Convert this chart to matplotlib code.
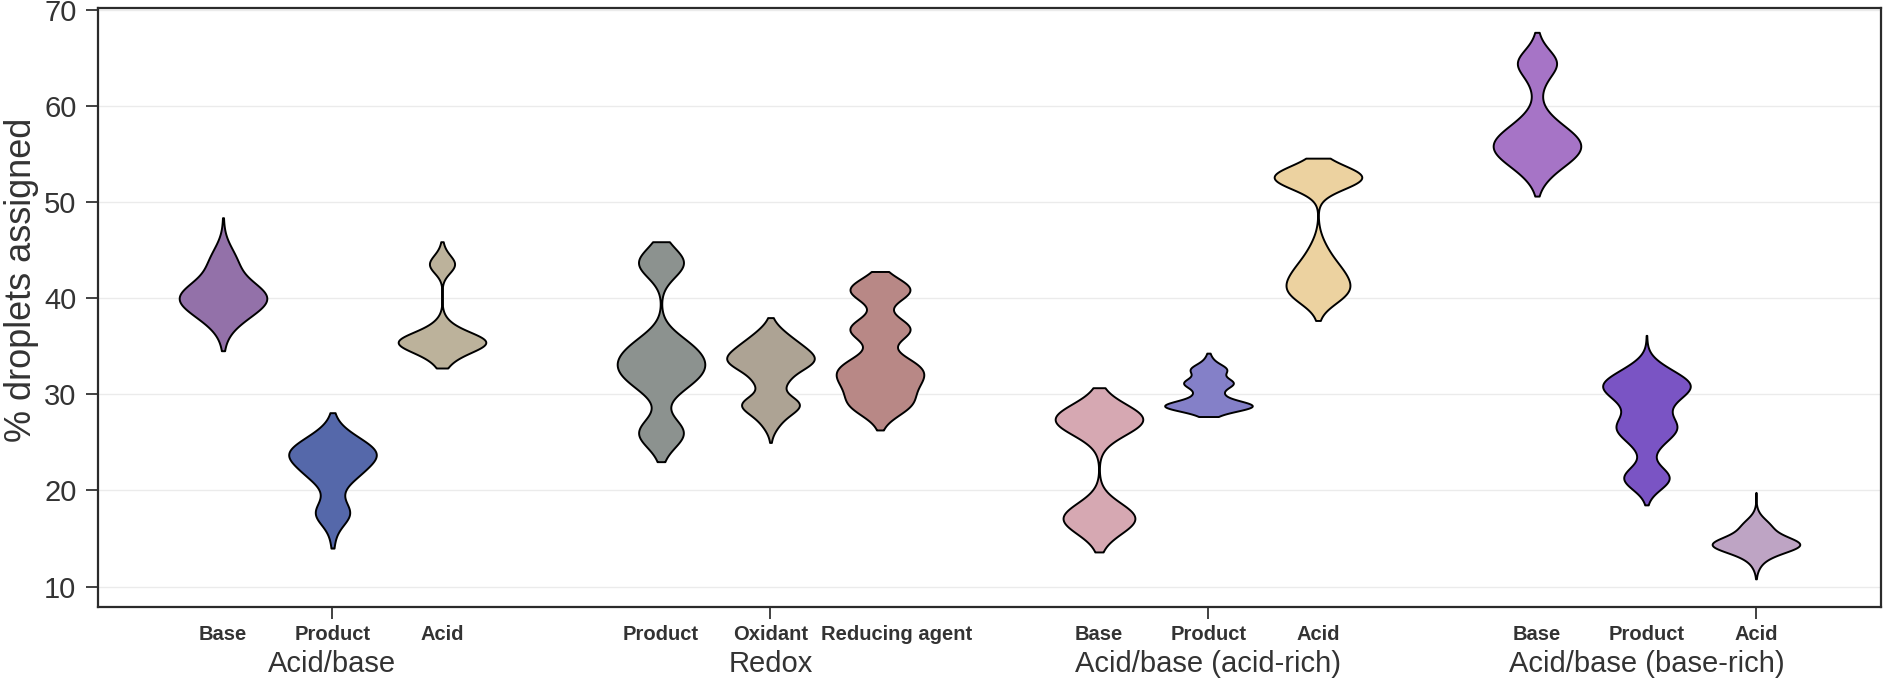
import numpy as np
import matplotlib
matplotlib.use("Agg")
import matplotlib.pyplot as plt

plt.rcParams['font.family'] = ['Liberation Sans', 'DejaVu Sans']

# ---------------- data ----------------
groups = ["Acid/base", "Redox", "Acid/base (acid-rich)", "Acid/base (base-rich)"]
categories = [["Base", "Product", "Acid"],
              ["Product", "Oxidant", "Reducing agent"],
              ["Base", "Product", "Acid"],
              ["Base", "Product", "Acid"]]
tick_categories = ["Product", "Oxidant", "Product", "Acid"]

colors = ["#9371A9", "#5568AA", "#BCB29B",
          "#8C928F", "#ADA394", "#B88886",
          "#D6A8B2", "#8480C8", "#ECD2A0",
          "#A674C6", "#7A54C4", "#BEA4C4"]

# % droplets assigned (values) and their relative weights, one pair per violin
ab_base_vals = [34.55, 36.6, 38.3, 40.0, 41.4, 43.7, 45.2, 48.4]
ab_base_wts = [0.015, 0.08, 0.5, 1.0, 0.45, 0.35, 0.1, 0.01]
ab_product_vals = [14.0, 15.5, 17.6, 19.8, 21.8, 23.7, 25.3, 27.0, 28.1]
ab_product_wts = [0.02, 0.05, 0.5, 0.15, 0.6, 1.0, 0.5, 0.06, 0.008]
ab_acid_vals = [32.75, 33.3, 34.3, 35.4, 36.3, 37.3, 43.5, 44.6, 45.9]
ab_acid_wts = [0.03, 0.08, 0.3, 1.0, 0.3, 0.12, 0.36, 0.05, 0.01]

rx_product_vals = [23.0, 26.0, 30.6, 31.6, 32.9, 34.2, 35.4, 43.7, 45.9]
rx_product_wts = [0.02, 0.5, 0.15, 0.3, 0.45, 0.3, 0.3, 0.5, 0.02]
rx_oxidant_vals = [25.0, 26.8, 28.0, 29.1, 31.3, 32.8, 33.8, 35.0, 36.1, 37.0, 38.0]
rx_oxidant_wts = [0.004, 0.08, 0.15, 0.4, 0.2, 0.3, 0.45, 0.3, 0.15, 0.05, 0.004]
rx_reducing_vals = [26.3, 28.8, 30.4, 31.8, 33.2, 36.8, 40.9, 42.8]
rx_reducing_wts = [0.02, 0.55, 0.35, 0.55, 0.55, 0.7, 0.7, 0.01]

ar_base_vals = [13.6, 17.1, 27.4, 30.7]
ar_base_wts = [0.02, 0.82, 1.0, 0.02]
ar_product_vals = [27.7, 28.8, 30.0, 31.2, 32.6, 33.6, 34.3]
ar_product_wts = [0.1, 1.0, 0.25, 0.55, 0.4, 0.06, 0.01]
ar_acid_vals = [37.7, 40.2, 41.5, 43.0, 44.6, 46.0, 52.6, 54.6]
ar_acid_wts = [0.01, 0.35, 0.36, 0.3, 0.14, 0.05, 0.95, 0.03]

br_base_vals = [50.65, 52.8, 54.5, 56.0, 57.5, 59.2, 62.3, 64.5, 66.2, 67.7]
br_base_wts = [0.005, 0.12, 0.35, 0.45, 0.3, 0.1, 0.08, 0.32, 0.04, 0.005]
br_product_vals = [18.5, 21.3, 24.8, 26.6, 28.9, 30.8, 32.4, 36.15]
br_product_wts = [0.005, 0.4, 0.15, 0.45, 0.25, 0.6, 0.25, 0.004]
br_acid_vals = [10.8, 12.3, 13.4, 14.35, 15.3, 16.4, 17.4, 19.8]
br_acid_wts = [0.005, 0.08, 0.3, 1.0, 0.35, 0.3, 0.05, 0.003]

bandwidths = [1.4, 1.2, 0.9,
              1.5, 0.9, 1.19,
              1.6, 0.55, 1.2,
              1.3, 1.2, 0.7]

violin_data = [
    (ab_base_vals, ab_base_wts), (ab_product_vals, ab_product_wts), (ab_acid_vals, ab_acid_wts),
    (rx_product_vals, rx_product_wts), (rx_oxidant_vals, rx_oxidant_wts), (rx_reducing_vals, rx_reducing_wts),
    (ar_base_vals, ar_base_wts), (ar_product_vals, ar_product_wts), (ar_acid_vals, ar_acid_wts),
    (br_base_vals, br_base_wts), (br_product_vals, br_product_wts), (br_acid_vals, br_acid_wts),
]


def kde_stats(vals, wts, bw, n=600):
    v = np.asarray(vals, float)
    w = np.asarray(wts, float)
    coords = np.linspace(v.min(), v.max(), n)
    dens = (w[None, :] * np.exp(-0.5 * ((coords[:, None] - v[None, :]) / bw) ** 2)).sum(axis=1)
    return dict(coords=coords, vals=dens, mean=np.average(v, weights=w),
                median=np.median(v), min=v.min(), max=v.max(), quantiles=[])


# ---------------- figure ----------------
fig = plt.figure(figsize=(18.86, 6.91), dpi=100)
ax = fig.add_axes([0.05196, 0.1220, 0.94539, 0.86598])

positions = []
for g in range(len(groups)):
    for i in range(len(categories[g])):
        positions.append(4 * g + i)

for k, ((vals, wts), bw) in enumerate(zip(violin_data, bandwidths)):
    st = kde_stats(vals, wts, bw)
    parts = ax.violin([st], positions=[positions[k]], widths=0.8,
                      showmeans=False, showextrema=False, showmedians=False)
    for b in parts['bodies']:
        b.set_facecolor(colors[k])
        b.set_edgecolor('black')
        b.set_alpha(1)
        b.set_linewidth(1.4)
        b.set_zorder(3)

ax.set_xlim(-1.1416, 15.142)
ax.set_ylim(7.9, 70.2)
ax.set_yticks([10, 20, 30, 40, 50, 60, 70])
ax.yaxis.grid(True, color='#ebebeb', linewidth=1.0, zorder=0)
ax.set_axisbelow(True)

ax.set_xticks([4 * g + categories[g].index(tick_categories[g]) for g in range(len(groups))])
ax.set_xticklabels([])
ax.tick_params(axis='x', length=8.5, width=1.3, color='#333333')
ax.tick_params(axis='y', length=8.5, width=1.3, color='#333333',
               labelsize=21, labelcolor='#333333', pad=7)

for s in ax.spines.values():
    s.set_linewidth(1.6)
    s.set_color('#2b2b2b')

ax.text(-0.0430, 0.546, "% droplets assigned", transform=ax.transAxes,
        rotation=90, ha='center', va='center', fontsize=26, color='#333333')

for g in range(len(groups)):
    for i, cat in enumerate(categories[g]):
        dx = 12 if cat == "Reducing agent" else 0
        ax.annotate(cat, xy=(4 * g + i, 0), xycoords=('data', 'axes fraction'),
                    xytext=(dx, -23.8), textcoords='offset points',
                    ha='center', va='baseline', fontsize=14.5, fontweight='bold',
                    color='#333333')
    ax.annotate(groups[g], xy=(4 * g + 1, 0), xycoords=('data', 'axes fraction'),
                xytext=(0, -47), textcoords='offset points',
                ha='center', va='baseline', fontsize=21, color='#333333')

fig.savefig("out.png", dpi=100)
